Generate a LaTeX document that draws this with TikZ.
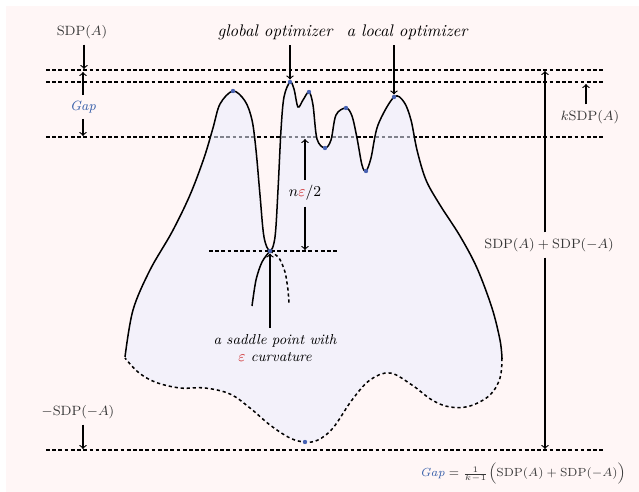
\documentclass[tikz,border=0pt]{standalone}
\usepackage{amsmath}

\definecolor{bgpink}{RGB}{255,246,246}
\definecolor{landfill}{RGB}{234,237,255}
\definecolor{dotblue}{RGB}{72,98,178}
\definecolor{gapblue}{RGB}{52,92,168}
\definecolor{epsred}{RGB}{205,40,40}
\definecolor{lblgray}{RGB}{55,55,55}

\tikzset{
  lvl/.style={line width=0.95pt, dash pattern=on 2.2pt off 1.5pt},
  rim/.style={line width=0.9pt, dash pattern=on 1.9pt off 1.7pt},
  ptr/.style={->, line width=0.7pt},
  lbl/.style={text=lblgray, font=\footnotesize},
  tag/.style={font=\itshape},
  dot/.style={circle, fill=dotblue, inner sep=0pt, minimum size=2.6pt},
}

\begin{document}
\begin{tikzpicture}[x=0.595pt, y=-0.595pt]

\useasboundingbox (0,0) rectangle (639,492);
\fill[bgpink] (6,6) rectangle (639,492);

% Niveaux
\foreach \y in {70,82,137,450} {
    \draw[lvl] (46,\y) -- (604,\y);
}

% Paysage
\fill[landfill, fill opacity=0.55]
  plot[smooth, tension=0.55] coordinates {(125,357) (133,310) (150,270) (172,232) (190,195) (204,158) (213,128) (220,104) (233,91) (245,101) (252,120) (256,150) (260,195) (264,237) (270,251) (275,237) (278,190) (281,130) (284,97) (290,82) (294,89) (298,107) (303,100) (309,92) (313,105) (317,139) (325,148) (331,140) (336,115) (346,108) (352,116) (357,138) (362,165) (366,171) (371,158) (378,125) (394,97) (404,102) (411,120) (417,150) (426,180) (440,205) (460,236) (477,268) (492,308) (500,340) (502,358)}
  -- plot[smooth, tension=0.6] coordinates {(502,358) (500,378) (490,395) (470,406) (450,407) (432,400) (412,385) (390,373) (370,380) (352,400) (333,428) (318,440) (305,442) (290,438) (270,425) (250,408) (230,394) (205,388) (180,388) (155,382) (138,372) (125,358)}
  -- cycle;
\draw[line width=0.9pt] plot[smooth, tension=0.55] coordinates {(125,357) (133,310) (150,270) (172,232) (190,195) (204,158) (213,128) (220,104) (233,91) (245,101) (252,120) (256,150) (260,195) (264,237) (270,251) (275,237) (278,190) (281,130) (284,97) (290,82) (294,89) (298,107) (303,100) (309,92) (313,105) (317,139) (325,148) (331,140) (336,115) (346,108) (352,116) (357,138) (362,165) (366,171) (371,158) (378,125) (394,97) (404,102) (411,120) (417,150) (426,180) (440,205) (460,236) (477,268) (492,308) (500,340) (502,358)};
\draw[rim] plot[smooth, tension=0.6] coordinates {(502,358) (500,378) (490,395) (470,406) (450,407) (432,400) (412,385) (390,373) (370,380) (352,400) (333,428) (318,440) (305,442) (290,438) (270,425) (250,408) (230,394) (205,388) (180,388) (155,382) (138,372) (125,358)};

% Col
\draw[lvl] (209,251) -- (338,251);
\draw[line width=0.9pt] plot[smooth] coordinates {(270,251) (262,262) (256,280) (252,306)};
\draw[rim] plot[smooth] coordinates {(270,251) (279,258) (285,272) (288,290) (289,304)};

% Points critiques
\node[dot] (pA) at (233,91) {};
\node[dot] (gmax) at (290,82) {};
\node[dot] (pB) at (309,92) {};
\node[dot] (pC) at (325,148) {};
\node[dot] (pD) at (346,108) {};
\node[dot] (pE) at (366,171) {};
\node[dot] (lmax) at (394,97) {};
\node[dot] (sad) at (270,251) {};
\node[dot] (gmin) at (305,442) {};

% Etiquettes
\node[lbl] (sdpA) at (82,32) {$\mathrm{SDP}(A)$};
\node[text=gapblue, font=\footnotesize\itshape] (gap) at (83,107) {Gap};
\node[tag] (glob) at (275,32) {global optimizer};
\node[tag] (loc) at (407,32) {a local optimizer};
\node[lbl] (ksdp) at (590,117) {$k\mathrm{SDP}(A)$};
\node[lbl] (sum) at (549,245) {$\mathrm{SDP}(A)+\mathrm{SDP}(-A)$};
\node[font=\small] (neps) at (305,193) {$n{\color{epsred}\varepsilon}/2$};
\node[font=\fontsize{8.6}{10.4}\selectfont\itshape, align=center] (sadtxt) at (275,348) {a saddle point with\\{\color{epsred}$\varepsilon$} curvature};
\node[lbl] (nsdp) at (78,412) {$-\mathrm{SDP}(-A)$};
\node[lbl, font=\scriptsize] (gapdef) at (523,474) {$\textcolor{gapblue}{\textit{Gap}} = \frac{1}{k-1}\Bigl(\mathrm{SDP}(A)+\mathrm{SDP}(-A)\Bigr)$};

% Fleches
\coordinate (topL) at (84,69);
\coordinate (gapT) at (83,72);
\coordinate (gapB) at (83,136);
\coordinate (kL) at (586,84);
\coordinate (sumT) at (545,71);
\coordinate (sumB) at (545,449);
\coordinate (nT) at (305,139);
\coordinate (nB) at (305,250);
\coordinate (botL) at (83,449);

\draw[ptr] (sdpA.south -| topL) -- (topL);
\draw[ptr] (gap) -- (gapT);
\draw[ptr] (gap) -- (gapB);
\draw[ptr] (glob.south -| gmax) -- (gmax);
\draw[ptr] (loc.south -| lmax) -- (lmax);
\draw[ptr] (ksdp.north -| kL) -- (kL);
\draw[ptr] (sum.north -| sumT) -- (sumT);
\draw[ptr] (sum.south -| sumB) -- (sumB);
\draw[ptr] (neps) -- (nT);
\draw[ptr] (neps) -- (nB);
\draw[ptr] (sadtxt.north -| sad) -- (sad);
\draw[ptr] (nsdp.south -| botL) -- (botL);

\end{tikzpicture}
\end{document}
